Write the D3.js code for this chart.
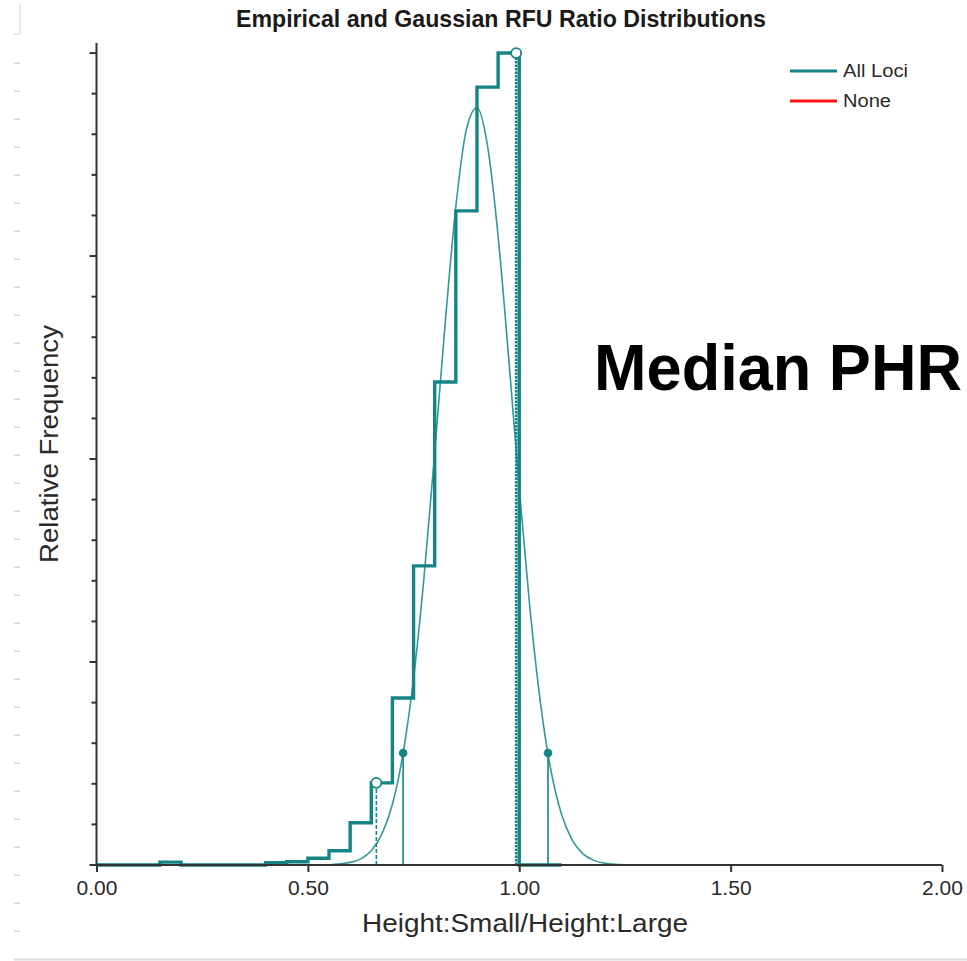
<!DOCTYPE html>
<html>
<head>
<meta charset="utf-8">
<script src="https://cdn.jsdelivr.net/npm/d3@7"></script>
<style>
  html, body { margin: 0; padding: 0; background: #fff; }
  svg { display: block; }
  text { font-family: "Liberation Sans", Arial, sans-serif; }
</style>
</head>
<body>
<script>
// ---- data ----
// histogram bin left edges (bin width 0.05) and relative frequencies
const binEdges = [0.00,0.05,0.10,0.15,0.20,0.25,0.30,0.35,0.40,0.45,0.50,0.55,0.60,0.65,0.70,0.75,0.80,0.85,0.90,0.95,1.00,1.05,1.10];
const binFreq  = [0.0000,0.0000,0.0000,0.0009,0.0000,0.0000,0.0000,0.0000,0.0007,0.0010,0.0021,0.0044,0.0130,0.0253,0.0514,0.0921,0.1487,0.2014,0.2395,0.2500,0.0000,0.0000];
// fitted Gaussian curve
const gaussX = [0.50,0.55,0.60,0.625,0.65,0.675,0.70,0.725,0.75,0.775,0.80,0.825,0.85,0.875,0.90,0.925,0.95,0.975,1.00,1.025,1.05,1.075,1.10,1.125,1.15,1.175,1.20,1.225,1.25];
const gaussY = [0.0000,0.0001,0.0008,0.0019,0.0044,0.0095,0.0187,0.0342,0.0575,0.0890,0.1271,0.1671,0.2027,0.2265,0.2332,0.2214,0.1936,0.1561,0.1160,0.0794,0.0501,0.0291,0.0156,0.0077,0.0035,0.0015,0.0006,0.0002,0.0001];
// empirical interval markers (open circles, dashed drop lines)
const empMarkX = [0.662, 0.9928];
const empMarkY = [0.0253, 0.2500];
// Gaussian interval markers (filled dots, solid drop lines)
const gaussMarkX = [0.7253, 1.068];
const gaussMarkY = [0.0345, 0.0345];
// axis ticks
const xTicks = [0, 0.5, 1.0, 1.5, 2.0];
const xTickLabels = ["0.00", "0.50", "1.00", "1.50", "2.00"];
const yMinorStep = 0.0125;
const yTickCount = 20;
const legendNames = ["All Loci", "None"];
const legendColors = ["#138585", "#ff1010"];

const teal = "#138585";
const W = 967, H = 961;

const svg = d3.select("body").append("svg").attr("width", W).attr("height", H);

const x = d3.scaleLinear().domain([0, 2]).range([96.5, 942]);
const y = d3.scaleLinear().domain([0, 0.2531]).range([865, 43]);

// faint ruler decoration at the left edge
const ruler = svg.append("g").attr("stroke", "#d4d4d4").attr("stroke-width", 1.5);
d3.range(0, 32).forEach(i => {
  ruler.append("line").attr("x1", 14).attr("x2", 20).attr("y1", 63.3 + i * 28).attr("y2", 63.3 + i * 28);
});
svg.append("path").attr("d", "M20,4 V34 H14").attr("fill", "none").attr("stroke", "#e2e2e2").attr("stroke-width", 1.5);
svg.append("line").attr("x1", 14).attr("x2", W).attr("y1", 959.5).attr("y2", 959.5)
  .attr("stroke", "#dcdcdc").attr("stroke-width", 2);

// title
svg.append("text").attr("x", 501).attr("y", 27).attr("text-anchor", "middle")
  .attr("font-size", 23).attr("font-weight", "bold").attr("fill", "#1a1a1a")
  .attr("textLength", 530).attr("lengthAdjust", "spacingAndGlyphs")
  .text("Empirical and Gaussian RFU Ratio Distributions");

// Gaussian curve
const gLine = d3.line().x((d, i) => x(gaussX[i])).y(d => y(d)).curve(d3.curveMonotoneX);
svg.append("path").datum(gaussY).attr("d", gLine)
  .attr("fill", "none").attr("stroke", teal).attr("stroke-width", 1.6).attr("stroke-opacity", 0.85);

// Gaussian markers
gaussMarkX.forEach((v, i) => {
  svg.append("line").attr("x1", x(v)).attr("x2", x(v)).attr("y1", y(0)).attr("y2", y(gaussMarkY[i]))
    .attr("stroke", teal).attr("stroke-width", 1.6);
});
svg.selectAll("circle.gdot").data(gaussMarkX).enter().append("circle").attr("class", "gdot")
  .attr("cx", d => x(d)).attr("cy", (d, i) => y(gaussMarkY[i])).attr("r", 4.3).attr("fill", teal);

// histogram step line
const histPts = binFreq.map((f, i) => [binEdges[i], f]);
histPts.push([binEdges[binEdges.length - 1], binFreq[binFreq.length - 1]]);
const hLine = d3.line().x(d => x(d[0])).y(d => y(d[1])).curve(d3.curveStepAfter);
svg.append("path").datum(histPts).attr("d", hLine)
  .attr("fill", "none").attr("stroke", teal).attr("stroke-width", 3.4).attr("stroke-linejoin", "miter");

// empirical markers (dashed)
empMarkX.forEach((v, i) => {
  svg.append("line").attr("x1", x(v)).attr("x2", x(v)).attr("y1", y(0)).attr("y2", y(empMarkY[i]))
    .attr("stroke", teal).attr("stroke-width", i === 1 ? 2.6 : 1.6)
    .attr("stroke-dasharray", i === 1 ? "2.5,1" : "4,2");
});
svg.selectAll("circle.edot").data(empMarkX).enter().append("circle").attr("class", "edot")
  .attr("cx", d => x(d)).attr("cy", (d, i) => y(empMarkY[i])).attr("r", 5)
  .attr("fill", "#fff").attr("stroke", teal).attr("stroke-width", 1.8);

// x axis
const xAxis = svg.append("g").attr("transform", `translate(0,${y(0)})`)
  .call(d3.axisBottom(x).tickValues(xTicks).tickFormat((d, i) => xTickLabels[i]).tickSize(7).tickSizeOuter(0));
xAxis.select(".domain").remove();
xAxis.append("line").attr("x1", 90).attr("x2", x(2)).attr("y1", 0).attr("y2", 0)
  .attr("stroke", "#333").attr("stroke-width", 2);
xAxis.selectAll(".tick line").attr("stroke", "#333").attr("stroke-width", 2);
xAxis.selectAll(".tick text").attr("font-size", 21).attr("fill", "#2a2a2a")
  .attr("font-family", "'Liberation Sans', Arial, sans-serif").attr("y", 15);

// y axis
const yTickVals = d3.range(0, yTickCount + 1).map(i => i * yMinorStep);
const yAxisG = svg.append("g").attr("transform", `translate(${x(0)},0)`);
yAxisG.append("line").attr("x1", 0).attr("x2", 0).attr("y1", y(0)).attr("y2", y.range()[1])
  .attr("stroke", "#333").attr("stroke-width", 2);
yAxisG.selectAll("line.yt").data(yTickVals).enter().append("line").attr("class", "yt")
  .attr("x1", (d, i) => i % 5 === 0 ? -7 : -5).attr("x2", 0)
  .attr("y1", d => y(d)).attr("y2", d => y(d))
  .attr("stroke", "#333").attr("stroke-width", 2);

// axis titles
svg.append("text").attr("x", 525).attr("y", 932).attr("text-anchor", "middle")
  .attr("font-size", 25).attr("fill", "#2a2a2a")
  .attr("textLength", 326).attr("lengthAdjust", "spacingAndGlyphs")
  .text("Height:Small/Height:Large");
svg.append("text").attr("transform", "translate(58,444) rotate(-90)").attr("text-anchor", "middle")
  .attr("font-size", 25).attr("fill", "#2a2a2a")
  .attr("textLength", 238).attr("lengthAdjust", "spacingAndGlyphs")
  .text("Relative Frequency");

// legend
const leg = svg.append("g");
legendNames.forEach((n, i) => {
  const ly = 71 + i * 30;
  leg.append("line").attr("x1", 790).attr("x2", 837).attr("y1", ly).attr("y2", ly)
    .attr("stroke", legendColors[i]).attr("stroke-width", 3.2);
  leg.append("text").attr("x", 843).attr("y", ly + 6).attr("font-size", 18).attr("fill", "#2a2a2a")
    .attr("textLength", i === 0 ? 65 : 48).attr("lengthAdjust", "spacingAndGlyphs").text(n);
});

// annotation
svg.append("text").attr("x", 594).attr("y", 390)
  .attr("font-size", 64).attr("font-weight", "bold").attr("fill", "#000")
  .attr("textLength", 368).attr("lengthAdjust", "spacingAndGlyphs")
  .text("Median PHR");
</script>
</body>
</html>
